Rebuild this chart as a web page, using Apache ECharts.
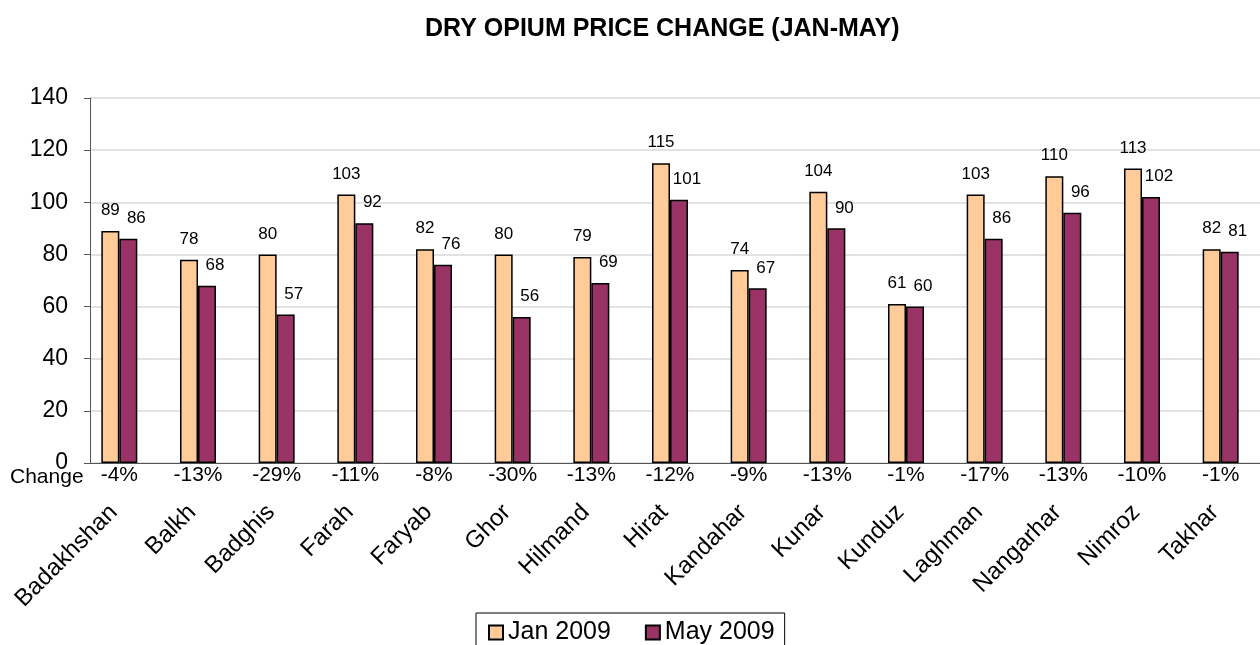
<!DOCTYPE html>
<html>
<head>
<meta charset="utf-8">
<script src="https://cdn.jsdelivr.net/npm/echarts@6/dist/echarts.min.js"></script>
<style>
html, body { margin: 0; padding: 0; background: #fff; }
#container { width: 1260px; height: 645px; }
</style>
</head>
<body>
<div id="container"></div>
<script>
var provinces = ['Badakhshan', 'Balkh', 'Badghis', 'Farah', 'Faryab', 'Ghor', 'Hilmand', 'Hirat',
    'Kandahar', 'Kunar', 'Kunduz', 'Laghman', 'Nangarhar', 'Nimroz', 'Takhar'];
var jan2009 = [89, 78, 80, 103, 82, 80, 79, 115, 74, 104, 61, 103, 110, 113, 82];
var may2009 = [86, 68, 57, 92, 76, 56, 69, 101, 67, 90, 60, 86, 96, 102, 81];
var changes = ['-4%', '-13%', '-29%', '-11%', '-8%', '-30%', '-13%', '-12%', '-9%', '-13%',
    '-1%', '-17%', '-13%', '-10%', '-1%'];

var dom = document.getElementById('container');
var myChart = echarts.init(dom);
var font = 'Liberation Sans, Arial, sans-serif';

// grid 0 holds the bars (sits a little left of the category ticks, as in the original),
// grid 1 draws the visible axes and gridlines
var option = {
    animation: false,
    textStyle: { fontFamily: font },
    title: {
        text: 'DRY OPIUM PRICE CHANGE (JAN-MAY)',
        left: 420,
        top: 12,
        textStyle: { fontSize: 25, fontWeight: 'bold', color: '#000', fontFamily: font }
    },
    legend: {
        left: 476,
        top: 613,
        itemWidth: 14,
        itemHeight: 14,
        itemGap: 34,
        padding: [7, 10, 10, 12],
        borderColor: '#000',
        borderWidth: 1,
        icon: 'rect',
        textStyle: { fontSize: 25, color: '#000', fontFamily: font },
        data: ['Jan 2009', 'May 2009']
    },
    grid: [
        { left: 80, top: 98, width: 1181, height: 365 },
        { left: 90, top: 98, width: 1181, height: 365 }
    ],
    xAxis: [
        {
            type: 'category',
            gridIndex: 0,
            data: provinces,
            axisLine: { show: false },
            axisTick: { show: false },
            axisLabel: { show: false }
        },
        {
            type: 'category',
            gridIndex: 0,
            data: changes,
            position: 'bottom',
            axisLine: { show: false },
            axisTick: { show: false },
            axisLabel: { fontSize: 21, color: '#000', margin: 2, fontFamily: font }
        },
        {
            type: 'category',
            gridIndex: 0,
            data: provinces,
            position: 'bottom',
            axisLine: { show: false },
            axisTick: { show: false },
            axisLabel: { fontSize: 24, color: '#000', rotate: 45, margin: 40, padding: [0, 8, 0, 0], fontFamily: font }
        },
        {
            type: 'category',
            gridIndex: 1,
            data: provinces,
            axisLine: { lineStyle: { color: '#555', width: 1 } },
            axisTick: { length: 9, lineStyle: { color: '#555' } },
            axisLabel: { show: false }
        }
    ],
    yAxis: [
        {
            type: 'value',
            gridIndex: 0,
            min: 0,
            max: 140,
            interval: 20,
            show: false
        },
        {
            type: 'value',
            gridIndex: 1,
            min: 0,
            max: 140,
            interval: 20,
            axisLine: { show: true, lineStyle: { color: '#555' } },
            axisTick: { show: true, inside: false, length: 6, lineStyle: { color: '#555' } },
            axisLabel: { fontSize: 23, color: '#000', margin: 22, fontFamily: font },
            splitLine: { lineStyle: { color: '#d9d9d9', width: 1.5 } }
        }
    ],
    series: [
        {
            name: 'Jan 2009',
            type: 'bar',
            xAxisIndex: 0,
            yAxisIndex: 0,
            data: jan2009,
            barWidth: 18,
            barGap: '0%',
            itemStyle: { color: '#FFCC99', borderColor: '#000', borderWidth: 1.5 },
            label: { show: true, position: 'top', distance: 12, fontSize: 17, color: '#000', fontFamily: font }
        },
        {
            name: 'May 2009',
            type: 'bar',
            xAxisIndex: 0,
            yAxisIndex: 0,
            data: may2009,
            barWidth: 18,
            barGap: '0%',
            itemStyle: { color: '#993366', borderColor: '#000', borderWidth: 1.5 },
            label: { show: true, position: 'top', distance: 12, offset: [8, 0], fontSize: 17, color: '#000', fontFamily: font }
        }
    ],
    graphic: [
        {
            type: 'text',
            left: 10,
            top: 467,
            style: { text: 'Change', fontSize: 21, fill: '#000', fontFamily: font }
        }
    ]
};

if (option && typeof option === 'object') {
    myChart.setOption(option, true);
}
</script>
</body>
</html>
